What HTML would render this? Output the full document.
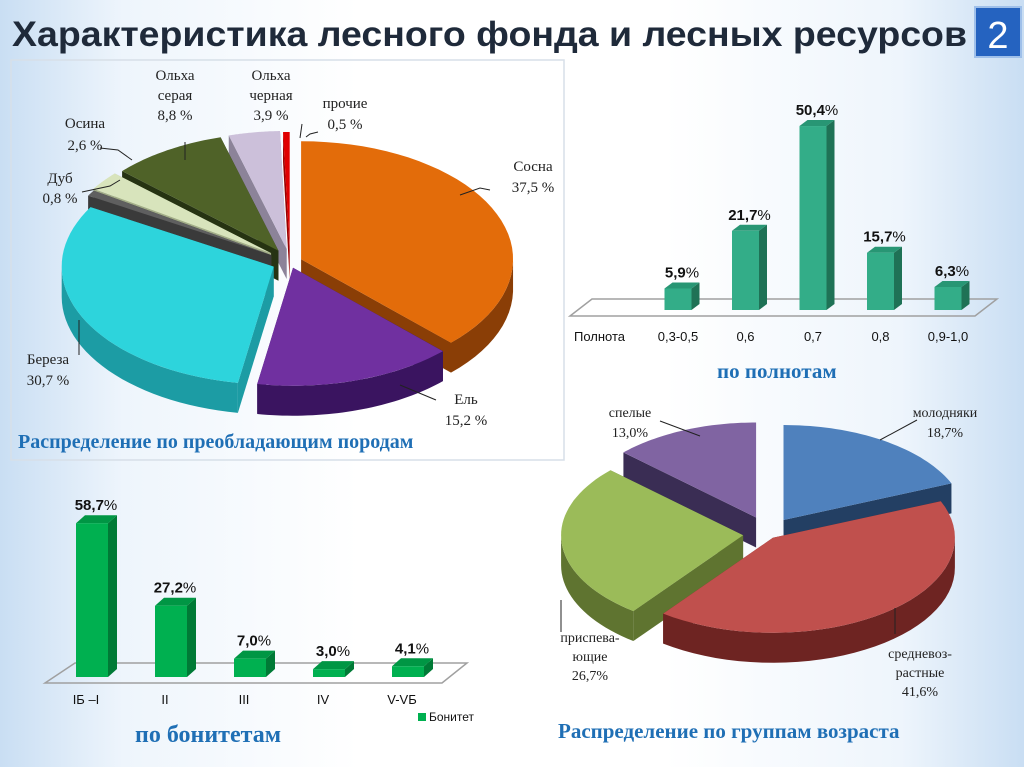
<!DOCTYPE html>
<html><head><meta charset="utf-8">
<style>
body{margin:0;width:1024px;height:767px;overflow:hidden;font-family:"Liberation Sans",sans-serif;}
#bg{position:absolute;left:0;top:0;width:1024px;height:767px;background:linear-gradient(90deg,#c9def3 0%,#eef5fc 12%,#ffffff 35%,#ffffff 65%,#eef5fc 88%,#c9def3 100%);}
svg{position:absolute;left:0;top:0;}
.ser{font-family:"Liberation Serif",serif;}
</style></head><body>
<div id="bg"></div>
<svg id="s" width="1024" height="767" xmlns="http://www.w3.org/2000/svg">
<text x="12" y="46" font-size="35" font-weight="bold" fill="#1f2a3a" textLength="955" lengthAdjust="spacingAndGlyphs">Характеристика лесного фонда и лесных ресурсов</text>
<rect x="975" y="7" width="46" height="50" fill="#2563c0" stroke="#9fc0ea" stroke-width="2"/>
<text x="998" y="48" font-size="38" fill="#fff" text-anchor="middle">2</text>
<rect x="11" y="60" width="553" height="400" fill="none" stroke="#d7dfe8" stroke-width="1.5"/>
<g id="pie1"></g>
<g id="pie2"></g>
<g id="bar1"></g>
<g id="bar2"></g>
<g class="ser" font-size="15" fill="#222">
<text x="175" y="80" text-anchor="middle"><tspan x="175">Ольха</tspan><tspan x="175" dy="20">серая</tspan><tspan x="175" dy="20">8,8 %</tspan></text>
<text x="271" y="80" text-anchor="middle"><tspan x="271">Ольха</tspan><tspan x="271" dy="20">черная</tspan><tspan x="271" dy="20">3,9 %</tspan></text>
<text x="345" y="108" text-anchor="middle"><tspan x="345">прочие</tspan><tspan x="345" dy="21">0,5 %</tspan></text>
<text x="85" y="128" text-anchor="middle"><tspan x="85">Осина</tspan><tspan x="85" dy="22">2,6 %</tspan></text>
<text x="60" y="183" text-anchor="middle"><tspan x="60">Дуб</tspan><tspan x="60" dy="20">0,8 %</tspan></text>
<text x="533" y="171" text-anchor="middle"><tspan x="533">Сосна</tspan><tspan x="533" dy="21">37,5 %</tspan></text>
<text x="48" y="364" text-anchor="middle"><tspan x="48">Береза</tspan><tspan x="48" dy="21">30,7 %</tspan></text>
<text x="466" y="404" text-anchor="middle"><tspan x="466">Ель</tspan><tspan x="466" dy="21">15,2 %</tspan></text>
<text x="630" y="417" text-anchor="middle" font-size="14"><tspan x="630">спелые</tspan><tspan x="630" dy="20">13,0%</tspan></text>
<text x="945" y="417" text-anchor="middle" font-size="14"><tspan x="945">молодняки</tspan><tspan x="945" dy="20">18,7%</tspan></text>
<text x="590" y="642" text-anchor="middle" font-size="14"><tspan x="590">приспева-</tspan><tspan x="590" dy="19">ющие</tspan><tspan x="590" dy="19">26,7%</tspan></text>
<text x="920" y="658" text-anchor="middle" font-size="14"><tspan x="920">средневоз-</tspan><tspan x="920" dy="19">растные</tspan><tspan x="920" dy="19">41,6%</tspan></text>
</g>
<g stroke="#222" stroke-width="1" fill="none">
<polyline points="185,142 185,160"/><polyline points="302,124 300,138"/><polyline points="318,132 310,134 306,137"/>
<polyline points="100,148 118,150 132,160"/><polyline points="82,192 110,186 120,180"/>
<polyline points="490,190 480,188 460,195"/><polyline points="79,355 79,320"/><polyline points="436,400 400,385"/>
<polyline points="660,421 700,436"/><polyline points="917,420 880,440"/><polyline points="561,632 561,600"/><polyline points="895,634 895,608"/>
</g>
<g class="ser" font-weight="bold" fill="#1f6fb5">
<text x="18" y="448" font-size="20">Распределение по преобладающим породам</text>
<text x="717" y="378" font-size="21">по полнотам</text>
<text x="135" y="742" font-size="24">по бонитетам</text>
<text x="558" y="738" font-size="21">Распределение по группам возраста</text>
</g>
</svg>
<script>
const NS='http://www.w3.org/2000/svg';
function mk(parent,tag,attrs){const e=document.createElementNS(NS,tag);for(const k in attrs)e.setAttribute(k,attrs[k]);parent.appendChild(e);return e;}

const speciesNames=['Сосна','Ель','Береза','Дуб','Осина','Ольха серая','Ольха черная','прочие'];
const speciesValues=[37.5,15.2,30.7,0.8,2.6,8.8,3.9,0.5];
const speciesColors=['#e36c0a','#7030a0','#2dd4dc','#5f5f5f','#d8e4bc','#4f6228','#ccc0da','#e00000'];
const speciesSides=['#8a3e06','#3a1460','#1c9ca4','#3a3a3a','#a2ad88','#263312','#8c8399','#990000'];
const ageNames=['молодняки','средневозрастные','приспевающие','спелые'];
const ageValues=[18.7,41.6,26.7,13.0];
const ageColors=['#4f81bd','#c0504d','#9bbb59','#8064a2'];
const ageSides=['#233f63','#6e2422','#5f7430','#3a2d54'];
const densityCats=['0,3-0,5','0,6','0,7','0,8','0,9-1,0'];
const densityValues=[5.9,21.7,50.4,15.7,6.3];
const densityLabels=['5,9','21,7','50,4','15,7','6,3'];
const bonitetCats=['IБ –I','II','III','IV','V-VБ'];
const bonitetValues=[58.7,27.2,7.0,3.0,4.1];
const bonitetLabels=['58,7','27,2','7,0','3,0','4,1'];

function pie3d(g,vals,cols,sides,cfg,prefix){
  const tot=vals.reduce((a,b)=>a+b,0);
  let a=0;const sl=[];
  vals.forEach((v,i)=>{const s=a,e=a+v/tot*2*Math.PI;a=e;sl.push({i,s,e,m:(s+e)/2});});
  const P=(cx,cy,t,d)=>[cx+cfg.rx*Math.sin(t),cy-cfg.ry*Math.cos(t)+d];
  sl.sort((p,q)=>(-Math.cos(p.m))-(-Math.cos(q.m)));
  sl.forEach(o=>{
    const ex=(cfg.ex[o.i]||0);
    const cx=cfg.cx+ex*Math.sin(o.m), cy=cfg.cy-ex*0.6*Math.cos(o.m);
    const D=cfg.d;
    const grp=mk(g,'g',{});
    
    
    [o.s,o.e].forEach(t=>{const p=P(cx,cy,t,0);
      mk(grp,'polygon',{points:`${cx},${cy} ${p[0]},${p[1]} ${p[0]},${p[1]+D} ${cx},${cy+D}`,fill:sides[o.i]});});
    const pts=[],pb=[];const n=40;
    for(let k=0;k<=n;k++){const t=o.s+(o.e-o.s)*k/n;if(Math.cos(t)<0.02){const p=P(cx,cy,t,0);pts.push(p);pb.unshift([p[0],p[1]+D]);}}
    if(pts.length>1)mk(grp,'polygon',{points:pts.concat(pb).map(p=>p.join(',')).join(' '),fill:sides[o.i]});
    let d=`M${cx},${cy}`;
    for(let k=0;k<=n;k++){const t=o.s+(o.e-o.s)*k/n;const p=P(cx,cy,t,0);d+=` L${p[0].toFixed(1)},${p[1].toFixed(1)}`;}
    mk(grp,'path',{d:d+'Z',fill:cols[o.i]});
  });
}
pie3d(document.getElementById('pie1'),speciesValues,speciesColors,speciesSides,
  {cx:290,cy:262,rx:212,ry:118,d:30,ex:[12,10,18,22,24,22,22,20]},'species');
pie3d(document.getElementById('pie2'),ageValues,ageColors,ageSides,
  {cx:768,cy:534,rx:182,ry:95,d:30,ex:[28,8,25,30]},'age');

function bars3d(g,cats,vals,labs,cfg,prefix){
  mk(g,'polygon',{points:`${cfg.fl[0]},${cfg.fy1} ${cfg.fr[0]},${cfg.fy1} ${cfg.fr[1]},${cfg.fy0} ${cfg.fl[1]},${cfg.fy0}`,fill:'none',stroke:'#a0a0a0','stroke-width':1.5});
  vals.forEach((v,i)=>{
    const xc=cfg.x0+i*cfg.step, x=xc-cfg.w/2, h=v*cfg.k, y=cfg.base-h;
    const grp=mk(g,'g',{});
    
    
    mk(grp,'polygon',{points:`${x+cfg.w},${y} ${x+cfg.w+cfg.dx},${y-cfg.dy} ${x+cfg.w+cfg.dx},${cfg.base-cfg.dy} ${x+cfg.w},${cfg.base}`,fill:cfg.side});
    mk(grp,'polygon',{points:`${x},${y} ${x+cfg.dx},${y-cfg.dy} ${x+cfg.w+cfg.dx},${y-cfg.dy} ${x+cfg.w},${y}`,fill:cfg.top});
    mk(grp,'rect',{x:x,y:y,width:cfg.w,height:h,fill:cfg.front});
    const t=mk(g,'text',{x:xc+4,y:y-cfg.dy-5,'text-anchor':'middle','font-size':cfg.fs,fill:'#111'});
    
    
    t.innerHTML=`<tspan font-weight="bold">${labs[i]}</tspan>%`;
    const c=mk(g,'text',{x:xc+cfg.cdx,y:cfg.cy,'text-anchor':'middle','font-size':13,fill:'#111'});
    
    
    c.textContent=cats[i];
  });
}
bars3d(document.getElementById('bar1'),densityCats,densityValues,densityLabels,
  {x0:678,step:67.5,w:27,k:3.65,base:310,dx:8,dy:6,fl:[570,592],fr:[975,997],fy0:299,fy1:316,
   front:'#33ad88',side:'#1f7256',top:'#289674',fs:15,cdx:0,cy:341},'density');
bars3d(document.getElementById('bar2'),bonitetCats,bonitetValues,bonitetLabels,
  {x0:92,step:79,w:32,k:2.62,base:677,dx:9,dy:8,fl:[45,75],fr:[442,467],fy0:663,fy1:683,
   front:'#00b050',side:'#007a36',top:'#009644',fs:15,cdx:-6,cy:704},'bonitet');
const g2=document.getElementById('bar2');
const lr=mk(g2,'rect',{x:418,y:713,width:8,height:8,fill:'#00b050'});


const lt=mk(g2,'text',{x:429,y:721,'font-size':12,fill:'#111'});


lt.textContent='Бонитет';
const pl=mk(document.getElementById('bar1'),'text',{x:574,y:341,'font-size':13,fill:'#111'});


pl.textContent='Полнота';
</script>
</body></html>
